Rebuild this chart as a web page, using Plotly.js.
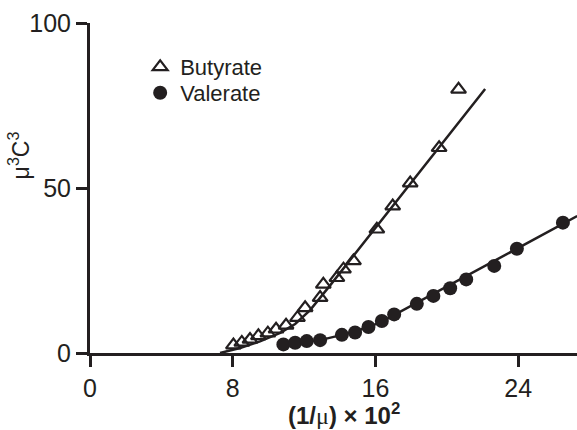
<!DOCTYPE html>
<html>
<head>
<meta charset="utf-8">
<script src="https://cdn.plot.ly/plotly-3.0.1.min.js"></script>
<style>html,body{margin:0;padding:0;background:#fff;}#chart{width:577px;height:430px;}</style>
</head>
<body>
<div id="chart"></div>
<script>
// Butyrate data (open triangles)
const butX = [8.04, 8.51, 8.97, 9.44, 9.97, 10.43, 10.99, 11.63, 12.06, 12.9, 13.08, 13.84, 14.21, 14.77, 16.08, 16.97, 17.95, 19.57, 20.66];
const butY = [2.4, 3.2, 4.1, 5.2, 6.0, 7.2, 8.4, 10.7, 13.7, 16.8, 20.8, 22.8, 25.4, 27.9, 37.5, 44.5, 51.5, 62.2, 79.9];
// Butyrate fitted curve
const butFitX = [7.29, 8.41, 9.53, 10.66, 11.5, 12.34, 13.46, 22.15];
const butFitY = [0, 1.5, 3.5, 6.1, 8.8, 13.0, 20.5, 80.0];
// Valerate data (filled circles)
const valX = [10.84, 11.5, 12.15, 12.9, 14.12, 14.86, 15.61, 16.36, 17.05, 18.32, 19.25, 20.19, 21.09, 22.66, 23.93, 26.51];
const valY = [2.6, 3.1, 3.6, 3.9, 5.5, 6.2, 7.9, 9.7, 11.7, 14.9, 17.3, 19.6, 22.3, 26.4, 31.6, 39.5];
// Valerate fitted curve
const valFitX = [10.99, 12.9, 14.13, 15.14, 16.26, 27.31];
const valFitY = [2.6, 3.9, 5.5, 7.1, 9.2, 41.5];
// Ticks
const xTicks = [0, 8, 16, 24];
const yTicks = [0, 50, 100];

const ink = '#231f20';
const font = 'Arial, "Liberation Sans", Helvetica, sans-serif';

const traces = [
  {x: butFitX, y: butFitY, mode: 'lines', line: {color: ink, width: 2.5}, showlegend: false, hoverinfo: 'skip'},
  {x: valFitX, y: valFitY, mode: 'lines', line: {color: ink, width: 2.5}, showlegend: false, hoverinfo: 'skip'},
  {x: butX, y: butY, mode: 'markers', name: 'Butyrate', legend: 'legend',
   marker: {symbol: 'triangle-up-open', size: 13, color: ink, line: {width: 2.2, color: ink}}},
  {x: valX, y: valY, mode: 'markers', name: 'Valerate', legend: 'legend2',
   marker: {symbol: 'circle', size: 14, color: ink, line: {width: 0}}}
];

const legFont = {size: 22, color: ink, family: font};
const layout = {
  width: 577, height: 430,
  margin: {l: 90, r: 0, t: 23, b: 77, pad: 0},
  paper_bgcolor: '#fff', plot_bgcolor: '#fff',
  font: {family: font, color: ink},
  showlegend: true,
  legend: {x: 0.103, y: (353 - 67) / 330, xanchor: 'left', yanchor: 'middle', bgcolor: 'rgba(0,0,0,0)',
           font: legFont, itemwidth: 30},
  legend2: {x: 0.103, y: (353 - 93) / 330, xanchor: 'left', yanchor: 'middle', bgcolor: 'rgba(0,0,0,0)',
           font: legFont, itemwidth: 30},
  xaxis: {range: [0, 27.3], tickvals: xTicks, ticktext: xTicks.map(String),
          showgrid: false, zeroline: false, showline: true, linecolor: ink, linewidth: 3,
          ticks: 'outside', ticklen: 11, tickwidth: 3, tickcolor: ink,
          tickfont: {size: 25, color: ink, family: font}, fixedrange: true},
  yaxis: {range: [0, 100], tickvals: yTicks, ticktext: yTicks.map(String),
          showgrid: false, zeroline: false, showline: true, linecolor: ink, linewidth: 3,
          ticks: 'outside', ticklen: 11, tickwidth: 3, tickcolor: ink,
          tickfont: {size: 25, color: ink, family: font}, fixedrange: true},
  annotations: [
    {xref: 'paper', yref: 'paper', x: (344 - 90) / 487, y: -(414 - 353) / 330, xanchor: 'center', yanchor: 'middle',
     showarrow: false, text: "<b>(1/</b><span style=\"font-family:'Liberation Serif',serif\">μ</span><b>) × 10<sup>2</sup></b>",
     font: {size: 24, color: ink, family: font}},
    {xref: 'paper', yref: 'paper', x: -0.145, y: (353 - 155) / 330, xanchor: 'center', yanchor: 'middle',
     showarrow: false, textangle: -90, text: "μ<sup>3</sup>C<sup>3</sup>",
     font: {size: 23, color: ink, family: font}}
  ]
};

Plotly.newPlot('chart', traces, layout, {displayModeBar: false, staticPlot: true});
</script>
</body>
</html>
